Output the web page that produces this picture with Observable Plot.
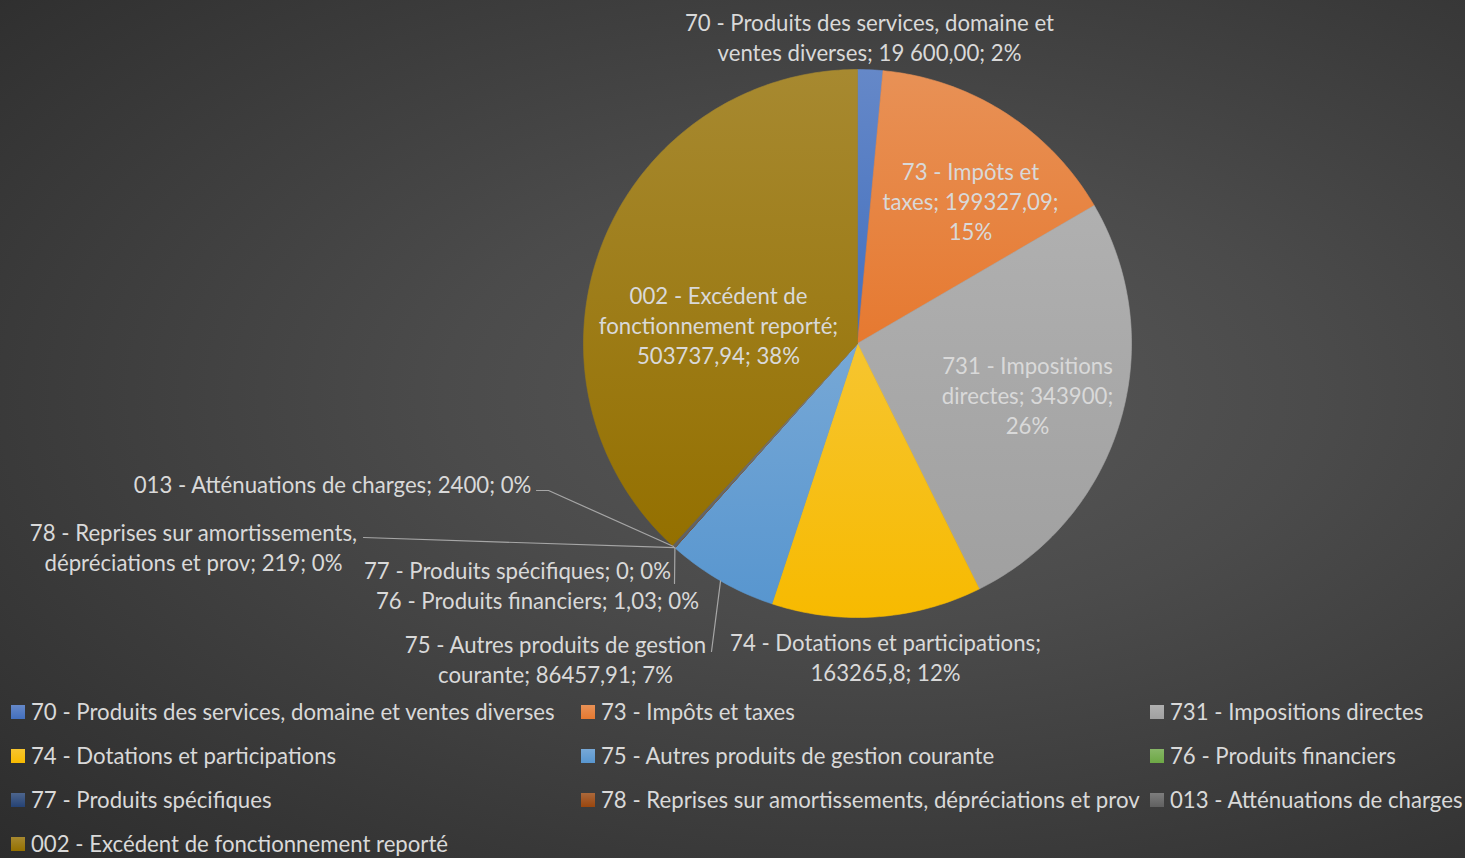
<!DOCTYPE html>
<html><head><meta charset="utf-8">
<script src="https://cdn.jsdelivr.net/npm/d3@7"></script>
<script src="https://cdn.jsdelivr.net/npm/@observablehq/plot@0.6"></script>
<style>
html,body{margin:0;padding:0;}
body{width:1465px;height:858px;overflow:hidden;
  background:radial-gradient(ellipse farthest-corner at 60% 46%, #585858 0%, #4b4b4b 35%, #2c2c2c 100%);
  font-family:Lato,"Open Sans",sans-serif;color:#d9d9d9;}
#chart svg{display:block;background:transparent;}
#legend{display:grid;grid-template-columns:570px 569px 320px;padding-left:11px;}
.item{height:44px;display:flex;align-items:center;font-size:22.2px;line-height:26px;white-space:nowrap;}
.sw{width:14px;height:14px;margin-right:6px;flex:none;}
</style></head><body>
<div id="chart"></div><div id="legend"></div>
<script>
// ---- data ----
const categories = [
  "70 - Produits des services, domaine et ventes diverses",
  "73 - Impôts et taxes",
  "731 - Impositions directes",
  "74 - Dotations et participations",
  "75 - Autres produits de gestion courante",
  "76 - Produits financiers",
  "77 - Produits spécifiques",
  "78 - Reprises sur amortissements, dépréciations et prov",
  "013 - Atténuations de charges",
  "002 - Excédent de fonctionnement reporté"
];
const values = [19600, 199327.09, 343900, 163265.8, 86457.91, 1.03, 0, 219, 2400, 503737.94];
const valueText = ["19 600,00", "199327,09", "343900", "163265,8", "86457,91", "1,03", "0", "219", "2400", "503737,94"];
const percentText = ["2%", "15%", "26%", "12%", "7%", "0%", "0%", "0%", "0%", "38%"];
// label line breaks as in the picture
const labelLines = [
  ["70 - Produits des services, domaine et", "ventes diverses; {v}; {p}"],
  ["73 - Impôts et", "taxes; {v};", "{p}"],
  ["731 - Impositions", "directes; {v};", "{p}"],
  ["74 - Dotations et participations;", "{v}; {p}"],
  ["75 - Autres produits de gestion", "courante; {v}; {p}"],
  ["76 - Produits financiers; {v}; {p}"],
  ["77 - Produits spécifiques; {v}; {p}"],
  ["78 - Reprises sur amortissements,", "dépréciations et prov; {v}; {p}"],
  ["013 - Atténuations de charges; {v}; {p}"],
  ["002 - Excédent de", "fonctionnement reporté;", "{v}; {p}"]
];

// ---- style / layout ----
const colors = ["#4472C4","#ED7D31","#A5A5A5","#FFC000","#5B9BD5","#70AD47","#264478","#9E480E","#636363","#997300"];
const W = 1465, H = 690, CX = 857, CY = 343, R = 274;
// label block centre, pixel offset from pie centre
const labelOffset = [[12,-307],[113,-143],[170,51],[28,313],[-302,315],[-320,256],[-340,226],[-664,203],[-525,140],[-139,-19]];
// leader polylines: pixel offsets from pie centre (label end first), ending at the slice edge
const leaders = [
  {i:8, pts:[[-321,147],[-309,147]]},
  {i:7, pts:[[-494,194]]},
  {i:6, pts:[[-183,240]]},
  {i:4, pts:[[-146,308]]}
];

const lighten = c => d3.interpolateRgb(c, "#d8d8d8")(0.22);
const darken = c => d3.interpolateRgb(c, "#000")(0.03);

const arcs = d3.pie().sort(null).value(d => d)(values);
const slicePts = [];
arcs.forEach((a, i) => {
  const k = categories[i];
  const n = Math.max(2, Math.ceil((a.endAngle - a.startAngle) / (Math.PI / 180)));
  slicePts.push({k, x: 0, y: 0});
  for (let j = 0; j <= n; j++) {
    const t = a.startAngle + (a.endAngle - a.startAngle) * j / n;
    slicePts.push({k, x: Math.sin(t), y: Math.cos(t)});
  }
  slicePts.push({k, x: 0, y: 0});
});

const labels = categories.map((k, i) => ({
  text: labelLines[i].map(s => s.replace("{v}", valueText[i]).replace("{p}", percentText[i])).join("\n"),
  x: labelOffset[i][0] / R,
  y: -labelOffset[i][1] / R
}));

const leaderPts = [];
leaders.forEach(({i, pts}) => {
  pts.forEach(([dx, dy]) => leaderPts.push({k: categories[i], x: dx / R, y: -dy / R}));
  const m = (arcs[i].startAngle + arcs[i].endAngle) / 2;
  leaderPts.push({k: categories[i], x: Math.sin(m), y: Math.cos(m)});
});

const plot = Plot.plot({
  width: W, height: H,
  margin: 0,
  style: {background: "transparent", overflow: "visible"},
  x: {domain: [-CX / R, (W - CX) / R], range: [0, W], axis: null},
  y: {domain: [-(H - CY) / R, CY / R], range: [H, 0], axis: null},
  color: {type: "ordinal", domain: categories, range: categories.map((_, i) => `url(#grad${i})`)},
  marks: [
    Plot.line(slicePts, {x: "x", y: "y", z: "k", fill: "k", stroke: "k", strokeWidth: 0.6, curve: "linear"}),
    Plot.line(leaderPts, {x: "x", y: "y", z: "k", stroke: "#a6a6a6", strokeWidth: 1.2}),
    Plot.text(labels, {x: "x", y: "y", text: "text", fill: "#d9d9d9", fontSize: 22.2, lineHeight: 1.345,
      fontFamily: "Lato, 'Open Sans', sans-serif", textAnchor: "middle", lineAnchor: "middle"})
  ]
});

const ns = "http://www.w3.org/2000/svg";
const defs = document.createElementNS(ns, "defs");
colors.forEach((c, i) => {
  const g = document.createElementNS(ns, "linearGradient");
  g.setAttribute("id", `grad${i}`);
  g.setAttribute("x1", "0"); g.setAttribute("y1", "0"); g.setAttribute("x2", "0"); g.setAttribute("y2", "1");
  [[0, lighten(c)], [1, darken(c)]].forEach(([o, col]) => {
    const s = document.createElementNS(ns, "stop");
    s.setAttribute("offset", o); s.setAttribute("stop-color", col);
    g.appendChild(s);
  });
  defs.appendChild(g);
});
plot.insertBefore(defs, plot.firstChild);
document.getElementById("chart").appendChild(plot);

const legend = document.getElementById("legend");
categories.forEach((k, i) => {
  const it = document.createElement("div"); it.className = "item";
  const sw = document.createElement("span"); sw.className = "sw";
  sw.style.background = `linear-gradient(${lighten(colors[i])}, ${darken(colors[i])})`;
  const t = document.createElement("span"); t.textContent = k;
  it.appendChild(sw); it.appendChild(t); legend.appendChild(it);
});
</script>
</body></html>
